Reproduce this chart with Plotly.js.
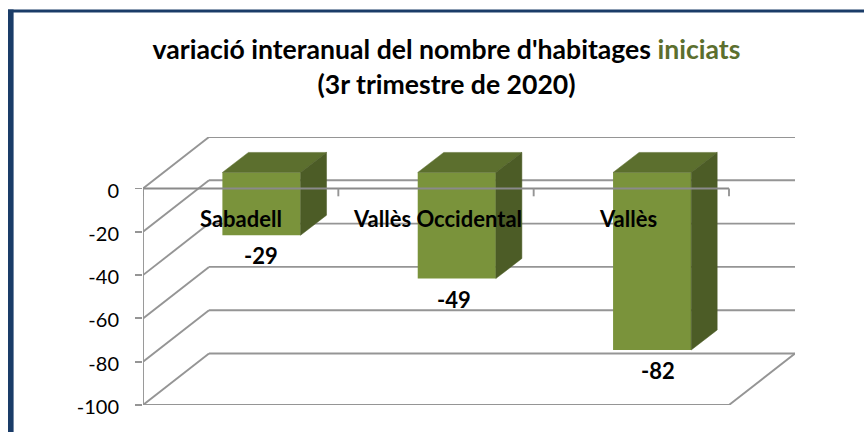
<!DOCTYPE html>
<html>
<head>
<meta charset="utf-8">
<script src="https://cdn.plot.ly/plotly-3.0.1.min.js"></script>
<style>html,body{margin:0;padding:0;background:#fff}#chart{width:864px;height:432px}</style>
</head>
<body>
<div id="chart"></div>
<script>
const categories = ['Sabadell', 'Vallès Occidental', 'Vallès'];
const values = [-29, -49, -82];
const valueLabels = ['-29', '-49', '-82'];
const yTicks = [0, -20, -40, -60, -80, -100];
const yTickLabels = ['0', '-20', '-40', '-60', '-80', '-100'];
const valueLabelShift = [0, -3, 6];
const categoryLabelShift = [0, 1, -3];

// style / geometry
const FRONT = '#7a933b', TOP = '#5c6f2e', SIDE = '#4c5c26', LINE = '#959595';
const L = 143, R = 795, T = 137.3, B = 404.7;
const pxX = 195.33, pxY = 2.16;
const wallX = 66 / pxX, wallY = 51.4 / pxY;     // full depth of the floor
const barOffX = 20.8 / pxX, barOffY = 16 / pxY;   // where the bars' front face sits
const barDepX = 26 / pxX, barDepY = 20 / pxY;     // depth of the bar itself
const barW = 0.4;
const LW = 1.9;

const shapes = [];
function lineShape(x0, y0, x1, y1) {
  return {type: 'line', xref: 'x', yref: 'y', x0, y0, x1, y1, layer: 'below',
          line: {color: LINE, width: LW}};
}
yTicks.forEach(t => {
  shapes.push(lineShape(0, t, wallX, t + wallY));
  shapes.push(lineShape(wallX, t + wallY, 3 + wallX, t + wallY));
});
shapes.push(lineShape(0, -100, 3, -100));
shapes.push(lineShape(3, -100, 3 + wallX, -100 + wallY));
shapes.push({type: 'line', xref: 'paper', yref: 'paper', layer: 'below',
  x0: (10.8 - L) / (R - L), x1: (10.8 - L) / (R - L),
  y0: (B - 440) / (B - T), y1: (B - 10) / (B - T),
  line: {color: '#1a3c68', width: 5.6}});
shapes.push({type: 'line', xref: 'paper', yref: 'paper', layer: 'below',
  x0: (8 - L) / (R - L), x1: (870 - L) / (R - L),
  y0: (B - 11.5) / (B - T), y1: (B - 11.5) / (B - T),
  line: {color: '#1a3c68', width: 3}});

const traces = [];
// front faces, via the bar engine
traces.push({type: 'bar', x: categories.map((c, i) => i + 0.5 + barOffX),
  y: values, base: values.map(() => barOffY), width: barW,
  marker: {color: FRONT, line: {width: 0}}, hoverinfo: 'skip', showlegend: false});
// top and side faces
values.forEach((v, i) => {
  const x0 = i + 0.5 + barOffX - barW / 2, x1 = x0 + barW;
  traces.push({type: 'scatter', mode: 'lines', fill: 'toself', fillcolor: TOP,
    x: [x0, x1, x1 + barDepX, x0 + barDepX, x0],
    y: [barOffY, barOffY, barOffY + barDepY, barOffY + barDepY, barOffY],
    line: {width: 0.5, color: TOP}, hoverinfo: 'skip', showlegend: false});
  traces.push({type: 'scatter', mode: 'lines', fill: 'toself', fillcolor: SIDE,
    x: [x1, x1 + barDepX, x1 + barDepX, x1, x1],
    y: [barOffY, barOffY + barDepY, barOffY + barDepY + v, barOffY + v, barOffY],
    line: {width: 0.5, color: SIDE}, hoverinfo: 'skip', showlegend: false});
});
// front axis lines, which run over the bars
traces.push({type: 'scatter', mode: 'lines', x: [0, 3], y: [0, 0],
  line: {color: '#8a8a8a', width: LW}, hoverinfo: 'skip', showlegend: false});
traces.push({type: 'scatter', mode: 'lines', x: [0, 0], y: [0, -100],
  line: {color: LINE, width: LW}, hoverinfo: 'skip', showlegend: false});
[0, 1, 2, 3].forEach(k => traces.push({type: 'scatter', mode: 'lines',
  x: [k, k], y: [0, -3.6], line: {color: LINE, width: LW},
  hoverinfo: 'skip', showlegend: false}));

const FONT = 'Lato, Carlito, Calibri, sans-serif';
const annotations = [];
categories.forEach((c, i) => annotations.push({x: i + 0.5, y: -14, text: '<b>' + c + '</b>',
  xshift: categoryLabelShift[i], showarrow: false, xanchor: 'center', yanchor: 'middle',
  font: {family: FONT, size: 22, color: '#000'}}));
values.forEach((v, i) => annotations.push({x: i + 0.5 + barOffX, y: barOffY + v - 9.5,
  text: '<b>' + valueLabels[i] + '</b>', xshift: valueLabelShift[i],
  showarrow: false, xanchor: 'center', yanchor: 'middle',
  font: {family: FONT, size: 22, color: '#000'}}));

Plotly.newPlot('chart', traces, {
  width: 864, height: 432,
  margin: {l: L, r: 864 - R, t: T, b: 432 - B, pad: 0},
  paper_bgcolor: '#fff', plot_bgcolor: 'rgba(0,0,0,0)',
  showlegend: false,
  title: {
    text: "<b>variació interanual del nombre d'habitages <span style=\"color:#5c6f2e\">iniciats</span></b><br><b>(3r trimestre de 2020)</b>",
    font: {family: FONT, size: 26.6, color: '#000'},
    x: 446.5 / 864, xanchor: 'center', y: 0.8635, yanchor: 'middle'
  },
  xaxis: {range: [0, 3 + wallX], showgrid: false, zeroline: false, showline: false,
    showticklabels: false, ticks: '', fixedrange: true},
  yaxis: {range: [-100, wallY], showgrid: false, zeroline: false, showline: false,
    tickmode: 'array', tickvals: yTicks, ticktext: yTickLabels, ticks: 'outside',
    ticklen: 7, tickwidth: LW, tickcolor: LINE, ticklabelstandoff: 12, ticklabelshift: 2,
    tickfont: {family: FONT, size: 20, color: '#000'}, fixedrange: true},
  shapes, annotations
}, {displayModeBar: false, staticPlot: true});
</script>
</body>
</html>
